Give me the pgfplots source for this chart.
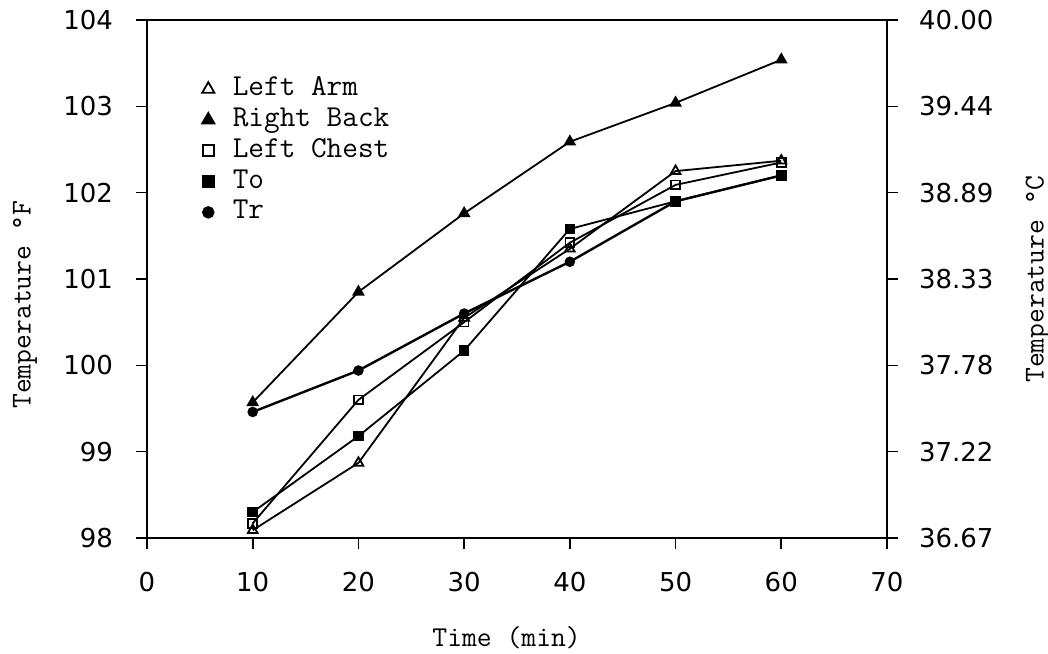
\documentclass[border=0pt]{standalone}
\usepackage{fontspec}
\setmainfont{Latin Modern Mono}
\newfontfamily\ticksf{DejaVu Sans}
\usepackage{pgfplots}
\pgfplotsset{compat=1.18}

\pgfplotsset{
  base/.style={
    at={(0,0)}, anchor=south west, scale only axis,
    width=370pt, height=259pt,
    xmin=0, xmax=70,
    tick align=outside, major tick length=5.5pt,
    axis line style={line width=0.9pt},
    tick style={line width=0.8pt, black},
    tick label style={font=\ticksf\fontsize{13}{15}\selectfont},
    /pgf/number format/assume math mode=true,
    label style={font=\fontsize{14.4}{16}\selectfont},
  },
  ser/.style={black, line width=0.9pt, mark size=#1},
}

\begin{document}
\begin{tikzpicture}
\begin{axis}[base,
  ymin=98, ymax=104,
  xtick={0,10,...,70}, ytick={98,...,104},
  xtick pos=bottom, ytick pos=left,
  xticklabel style={yshift=-8pt},
  yticklabel style={xshift=-8pt},
  xlabel={Time (min)}, ylabel={Temperature °F},
  xlabel style={at={(axis description cs:0.486,-0.193)}, anchor=center},
  ylabel style={at={(axis description cs:-0.165,0.45)}, anchor=center, rotate=0},
  legend style={at={(axis cs:4.57,103.36)}, anchor=north west, draw=none, fill=none,
    inner sep=0pt, font=\fontsize{15.2}{16}\selectfont, row sep=1.9pt,
    nodes={inner ysep=1pt, text height=9pt, text depth=2.5pt}},
  legend cell align=left,
  legend image code/.code={\path (0,0) (0.54cm,0); \draw[#1, every mark/.append style={scale=1.25}] plot[only marks] coordinates {(0.2cm,0cm)};},
]
\addplot[ser=2.8pt, mark=triangle, mark options={fill=white}] coordinates {(10,98.09) (20,98.87) (30,100.55) (40,101.35) (50,102.25) (60,102.37)};
\addplot[ser=2.8pt, mark=triangle*] coordinates {(10,99.57) (20,100.85) (30,101.76) (40,102.59) (50,103.04) (60,103.54)};
\addplot[ser=2.2pt, mark=square, mark options={fill=white}] coordinates {(10,98.17) (20,99.60) (30,100.50) (40,101.42) (50,102.09) (60,102.35)};
\addplot[ser=2.2pt, mark=square*] coordinates {(10,98.30) (20,99.18) (30,100.17) (40,101.58) (50,101.90) (60,102.20)};
\addplot[ser=2pt, mark=*, line width=1.2pt] coordinates {(10,99.46) (20,99.94) (30,100.60) (40,101.20) (50,101.90) (60,102.20)};
\legend{Left Arm, Right Back, Left Chest, To, Tr}
\end{axis}
\begin{axis}[base,
  ymin=36.66667, ymax=40,
  axis x line=none, axis y line*=right,
  ytick={36.66667,37.22222,37.77778,38.33333,38.88889,39.44444,40},
  yticklabels={36.67,37.22,37.78,38.33,38.89,39.44,40.00},
  yticklabel style={xshift=7pt},
  ylabel={Temperature °C},
  ylabel style={at={(axis description cs:1.204,0.5)}, anchor=center, rotate=0},
]
\end{axis}
\pgfresetboundingbox
\path[use as bounding box] (-73.5pt,-57.5pt) rectangle (450.5pt,269pt);
\end{tikzpicture}
\end{document}
